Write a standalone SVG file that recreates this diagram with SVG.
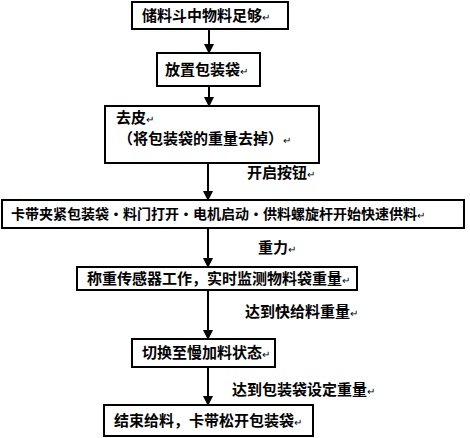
<svg xmlns="http://www.w3.org/2000/svg" width="470" height="438" viewBox="0 0 470 438">
<defs>
<marker id="ah" markerWidth="10" markerHeight="10" refX="9" refY="5" orient="auto" markerUnits="userSpaceOnUse">
<path d="M0,0 L10,5 L0,10 Z" fill="#000"/>
</marker>
<style>
.box{fill:#fff;stroke:#000;stroke-width:2}
.t{font-family:"Noto Sans CJK SC","Noto Sans",sans-serif;font-size:15px;font-weight:bold;fill:#000}
.r{font-size:10px;font-weight:normal}
.c{stroke:#000;stroke-width:2;fill:none}
</style>
</defs>
<rect width="470" height="438" fill="#fff"/>
<g id="connectors">
<line class="c" x1="209" y1="29" x2="209" y2="53" marker-end="url(#ah)"/>
<line class="c" x1="209" y1="86" x2="209" y2="106" marker-end="url(#ah)"/>
<line class="c" x1="208" y1="163" x2="208" y2="200" marker-end="url(#ah)"/>
<line class="c" x1="208" y1="228" x2="208" y2="267" marker-end="url(#ah)"/>
<line class="c" x1="208" y1="290" x2="208" y2="339" marker-end="url(#ah)"/>
<line class="c" x1="208" y1="367" x2="208" y2="405" marker-end="url(#ah)"/>
<text class="t" x="247" y="178">开启按钮<tspan class="r">↵</tspan></text>
<text class="t" x="258" y="253">重力<tspan class="r">↵</tspan></text>
<text class="t" x="245" y="317">达到快给料重量<tspan class="r">↵</tspan></text>
<text class="t" x="232" y="395">达到包装袋设定重量<tspan class="r">↵</tspan></text>
</g>
<g id="n1"><rect class="box" x="132" y="2" width="156" height="27"/><text class="t" x="142" y="21">储料斗中物料足够<tspan class="r">↵</tspan></text></g>
<g id="n2"><rect class="box" x="157" y="53" width="103" height="33"/><text class="t" x="165" y="75">放置包装袋<tspan class="r">↵</tspan></text></g>
<g id="n3"><rect class="box" x="105" y="106" width="214" height="57"/><text class="t" x="116" y="123">去皮<tspan class="r">↵</tspan></text><text class="t" x="118" y="144">（将包装袋的重量去掉）<tspan class="r">↵</tspan></text></g>
<g id="n4"><rect class="box" x="2" y="200" width="462" height="28"/><text class="t" x="11" y="219" style="font-size:14px">卡带夹紧包装袋·料门打开·电机启动·供料螺旋杆开始快速供料<tspan class="r">↵</tspan></text></g>
<g id="n5"><rect class="box" x="77" y="267" width="280" height="23"/><text class="t" x="87" y="284">称重传感器工作，实时监测物料袋重量<tspan class="r">↵</tspan></text></g>
<g id="n6"><rect class="box" x="132" y="339" width="143" height="28"/><text class="t" x="142" y="358">切换至慢加料状态<tspan class="r">↵</tspan></text></g>
<g id="n7"><rect class="box" x="104" y="405" width="209" height="31"/><text class="t" x="114" y="426">结束给料，卡带松开包装袋<tspan class="r">↵</tspan></text></g>
</svg>
